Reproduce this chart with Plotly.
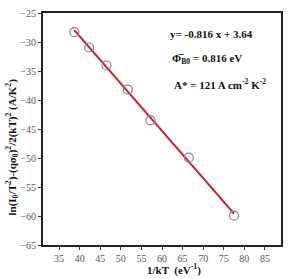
import plotly.graph_objects as go

# data
inv_kT = [38.7, 42.3, 46.5, 51.7, 57.2, 66.5, 77.5]
y_vals = [-28.3, -30.95, -34.05, -38.2, -43.5, -49.95, -59.95]
slope = -0.816
intercept = 3.64
fit_x = [inv_kT[0], inv_kT[-1]]
fit_y = [slope * x + intercept for x in fit_x]

x_ticks = [35, 40, 45, 50, 55, 60, 65, 70, 75, 80, 85]
y_ticks = [-25, -30, -35, -40, -45, -50, -55, -60, -65]

W, H = 295, 279
ml, mr, mt, mb = 43, 14, 7, 34
pw, ph = W - ml - mr, H - mt - mb

fig = go.Figure()
fig.add_trace(go.Scatter(x=fit_x, y=fit_y, mode="lines",
                         line=dict(color="#cc1f1f", width=2), showlegend=False))
fig.add_trace(go.Scatter(x=inv_kT, y=y_vals, mode="markers",
                         marker=dict(symbol="circle-open", size=9,
                                     color="#7f7f9f", line=dict(width=1.2)),
                         showlegend=False, cliponaxis=False))

serif = "Liberation Serif"
fig.update_layout(
    width=W, height=H,
    margin=dict(l=ml, r=mr, t=mt, b=mb),
    paper_bgcolor="white", plot_bgcolor="white",
    font=dict(family=serif, size=10, color="#444"),
    xaxis=dict(range=[31.1, 88.9], tickvals=x_ticks, ticks="outside",
               ticklen=3, tickwidth=1, tickcolor="#333",
               showline=True, linecolor="#222", linewidth=2, mirror=True,
               showgrid=False, zeroline=False,
               tickfont=dict(family=serif, size=10, color="#555")),
    yaxis=dict(range=[-65, -25], tickvals=y_ticks, ticks="outside",
               ticklen=3, tickwidth=1, tickcolor="#333",
               showline=True, linecolor="#222", linewidth=2, mirror=True,
               showgrid=False, zeroline=False,
               tickfont=dict(family=serif, size=10, color="#555")),
)

def px_x(p):
    return (p - ml) / pw

def px_y(p):
    return 1 - (p - mt) / ph

ann_font = dict(family=serif, size=11, color="#111")
annotations = [
    dict(text="<b>y= -0.816 x + 3.64</b>", x=px_x(168), y=px_y(29),
         xanchor="left", yanchor="middle"),
    dict(text="<b>Φ\u0305<sub>B0</sub> = 0.816 eV</b>", x=px_x(170), y=px_y(54),
         xanchor="left", yanchor="middle"),
    dict(text="<b>A* = 121 A cm<sup>-2</sup> K<sup>-2</sup></b>", x=px_x(172), y=px_y(80),
         xanchor="left", yanchor="middle"),
    dict(text="<b>ln(I<sub>0</sub>/T<sup>2</sup>)-(qσ<sub>0</sub>)<sup>2</sup>/2(kT)<sup>2</sup> (A/K<sup>2</sup>)</b>",
         x=px_x(12), y=px_y(145), textangle=-90,
         xanchor="center", yanchor="middle", font=dict(family=serif, size=11, color="#111")),
    dict(text="<b>1/kT  (eV<sup>-1</sup>)</b>", x=px_x(174), y=px_y(279),
         xanchor="center", yanchor="bottom", borderpad=0,
         font=dict(family=serif, size=11, color="#111")),
]
for a in annotations:
    a.setdefault("font", ann_font)
    a.update(xref="paper", yref="paper", showarrow=False)
    fig.add_annotation(**a)

fig.write_html("out.html")
